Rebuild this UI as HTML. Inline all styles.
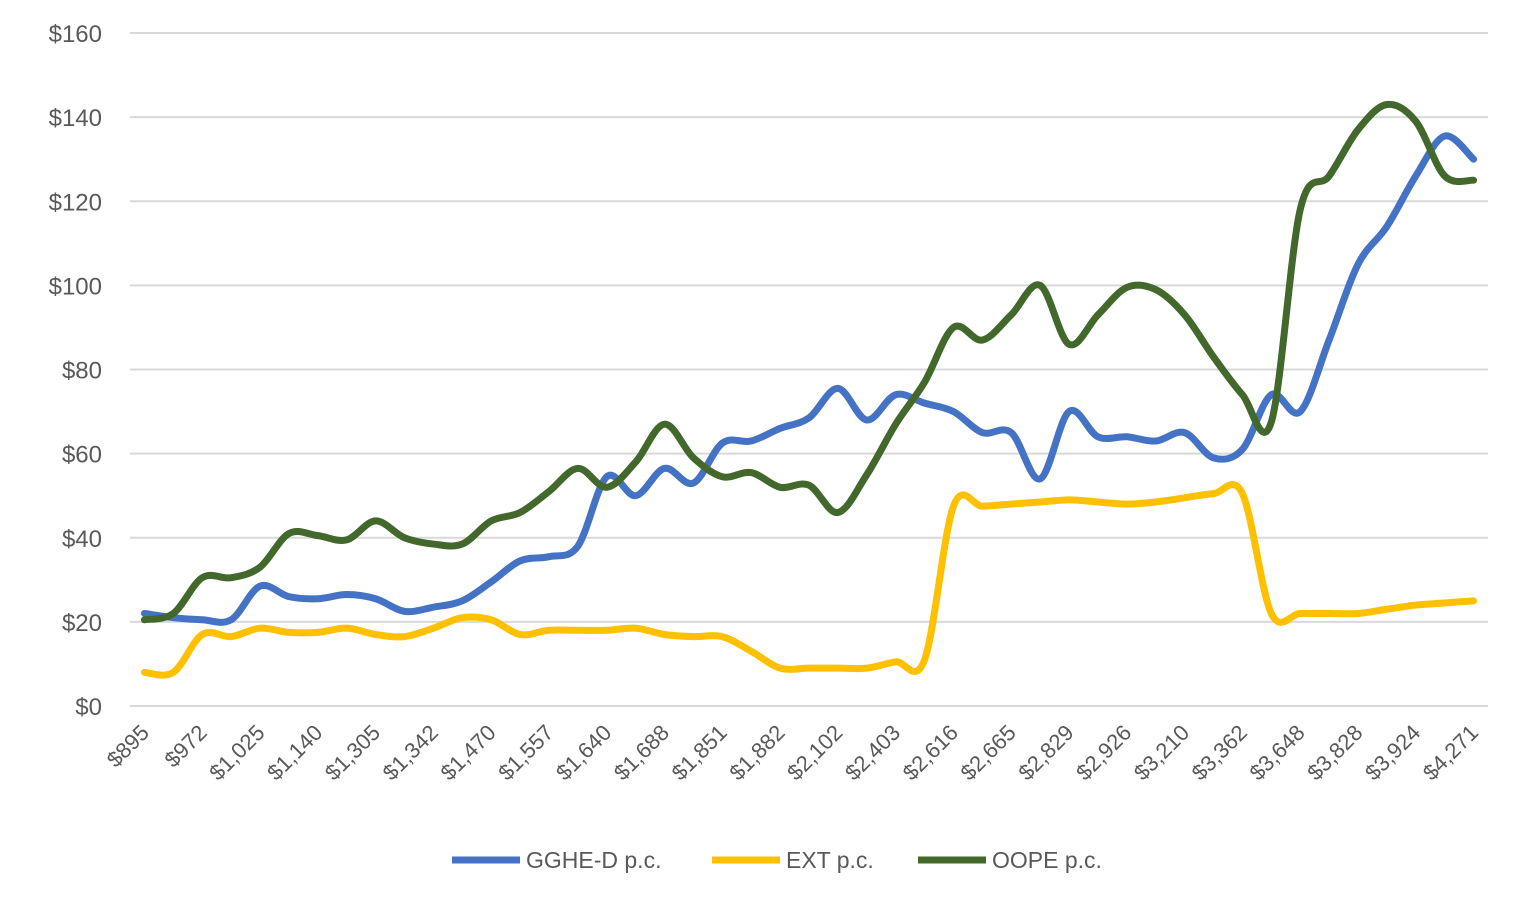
<!DOCTYPE html>
<html><head><meta charset="utf-8"><style>
body{margin:0;background:#fff;font-family:"Liberation Sans",Arial,sans-serif;}
svg text{font-family:"Liberation Sans",Arial,sans-serif;fill:#595959;}
</style></head><body>
<svg id="chart" width="1540" height="897" xmlns="http://www.w3.org/2000/svg"></svg>
<script>
const categories=["$895","","$972","","$1,025","","$1,140","","$1,305","","$1,342","","$1,470","","$1,557","","$1,640","","$1,688","","$1,851","","$1,882","","$2,102","","$2,403","","$2,616","","$2,665","","$2,829","","$2,926","","$3,210","","$3,362","","$3,648","","$3,828","","$3,924","","$4,271"];
const ggheValues=[22,21,20.5,20.5,28.5,26,25.5,26.5,25.5,22.5,23.5,25,29.5,34.5,35.5,38,54.5,50,56.5,53,62.5,63,66,68.5,75.5,68,74,72,70,65,65,54,70,64,64,63,65,59,61,74,70,87,105,114,126,135.5,130];
const extValues=[8,8,17,16.5,18.5,17.5,17.5,18.5,17,16.5,18.5,21,20.5,17,18,18,18,18.5,17,16.5,16.5,13,9,9,9,9,10.5,11,47.5,47.5,48,48.5,49,48.5,48,48.5,49.5,50.5,50.5,22,22,22,22,23,24,24.5,25];
const oopeValues=[20.5,22,30.5,30.5,33,41,40.5,39.5,44,40,38.5,38.5,44,46,51,56.5,52,58,67,59,54.5,55.5,52,52.5,46,55,67,77,90,87,93,100,86,93,99.5,99,93,83,74,67.5,118,126,137,143,139,126,125];
const yTicks=[0,20,40,60,80,100,120,140,160];
const seriesNames=["GGHE-D p.c.","EXT p.c.","OOPE p.c."];
const seriesColors=["#4472C4","#FFC000","#43682B"];

const NS="http://www.w3.org/2000/svg";
const svg=document.getElementById('chart');
const L=130,R=1488,T=33,B=706,YMAX=160;
const n=categories.length;
const step=(R-L)/n;
const xS=i=>L+step*(i+0.5);
const yS=v=>B-(v/YMAX)*(B-T);
function mk(tag,attrs){const e=document.createElementNS(NS,tag);for(const k in attrs)e.setAttribute(k,attrs[k]);svg.appendChild(e);return e;}

yTicks.forEach(t=>{
  const g=mk('line',{x1:L,x2:R,y1:yS(t),y2:yS(t),stroke:'#d9d9d9','stroke-width':2});
  
  
  const tx=mk('text',{x:102,y:yS(t)+9,'text-anchor':'end','font-size':24});
  tx.textContent='$'+t;
  
  
});
categories.forEach((c,i)=>{
  if(!c)return;
  const x=xS(i),y=B+22;
  const tx=mk('text',{x:x+6,y:y+6,'text-anchor':'end','font-size':22,transform:`rotate(-45 ${x+6} ${y+6})`});
  tx.textContent=c;
  
  
});
function smooth(vals){
  const p=vals.map((v,i)=>[xS(i),yS(v)]);
  let d=`M${p[0][0]},${p[0][1]}`;
  for(let i=0;i<p.length-1;i++){
    const p0=p[Math.max(0,i-1)],p1=p[i],p2=p[i+1],p3=p[Math.min(p.length-1,i+2)];
    const k=1/6;
    d+=` C${p1[0]+(p2[0]-p0[0])*k},${p1[1]+(p2[1]-p0[1])*k} ${p2[0]-(p3[0]-p1[0])*k},${p2[1]-(p3[1]-p1[1])*k} ${p2[0]},${p2[1]}`;
  }
  return d;
}
[ggheValues,extValues,oopeValues].forEach((vals,si)=>{
  const p=mk('path',{d:smooth(vals),fill:'none',stroke:seriesColors[si],'stroke-width':7,'stroke-linecap':'round','stroke-linejoin':'round'});
  
  
});
const legX=[452,712,918];
seriesNames.forEach((s,i)=>{
  const l=mk('line',{x1:legX[i],x2:legX[i]+68,y1:860,y2:860,stroke:seriesColors[i],'stroke-width':7});
  
  
  const t=mk('text',{x:legX[i]+74,y:868,'font-size':23});
  t.textContent=s;
  
  
});
</script>
</body></html>
